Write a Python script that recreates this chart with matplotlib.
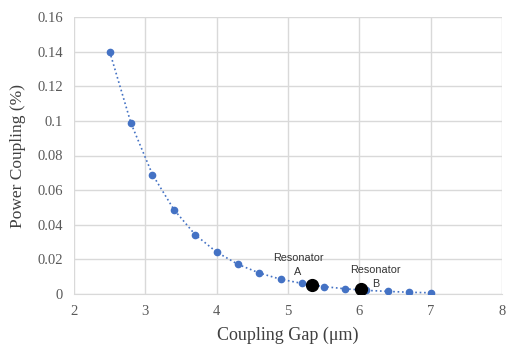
import numpy as np
import matplotlib.pyplot as plt

# coupling gap (um) and power coupling (%)
gap = [2.5, 2.8, 3.1, 3.4, 3.7, 4.0, 4.3, 4.6, 4.9, 5.2, 5.5, 5.8, 6.1, 6.4, 6.7, 7.0]
coupling = [0.140, 0.0985, 0.069, 0.0488, 0.0342, 0.0242, 0.0171, 0.0121,
            0.0085, 0.0061, 0.0043, 0.0030, 0.0021, 0.0015, 0.0010, 0.0007]

# resonators
res_gap = [5.33, 6.02]
res_coupling = [0.0052, 0.0028]
res_labels = ['Resonator\nA', 'Resonator\nB']
label_pos = [(5.14, 0.0168), (6.23, 0.0098)]

blue = '#4472C4'
grey = '#595959'

fig = plt.figure(figsize=(5.08, 3.46), dpi=100)
ax = fig.add_axes([74 / 508, 1 - 294 / 346, 428 / 508, 277 / 346])

ax.plot(gap, coupling, ':', color=blue, lw=1.2, zorder=2)
ax.plot(gap, coupling, 'o', color=blue, ms=4.5, zorder=3)
ax.plot(res_gap, res_coupling, 'o', color='black', ms=8.5, zorder=4)

for txt, (lx, ly) in zip(res_labels, label_pos):
    ax.text(lx, ly, txt, ha='center', va='center', fontsize=7.8,
            family='Liberation Sans', color='#333333', linespacing=1.45)

ax.set_xlim(2, 8)
ax.set_ylim(0, 0.16)
ax.set_xticks(np.arange(2, 9, 1))
ax.set_yticks(np.arange(0, 0.161, 0.02))
ax.set_yticklabels(['0', '0.02', '0.04', '0.06', '0.08', '0.1', '0.12', '0.14', '0.16'])

ax.grid(True, color='#d9d9d9', lw=1)
ax.set_axisbelow(True)
for s in ['top', 'right', 'left']:
    ax.spines[s].set_visible(False)
ax.spines['bottom'].set_color('#d9d9d9')
ax.tick_params(length=0, pad=8, labelsize=10.5, labelcolor=grey)
for lab in ax.get_xticklabels() + ax.get_yticklabels():
    lab.set_family('Liberation Serif')

ax.set_xlabel('Coupling Gap (μm)', family='Liberation Serif', fontsize=13,
              color='#404040', labelpad=6)
ax.set_ylabel('Power Coupling (%)', family='Liberation Serif', fontsize=12.5,
              color='#404040', labelpad=8)

fig.savefig('out.png', dpi=100)
